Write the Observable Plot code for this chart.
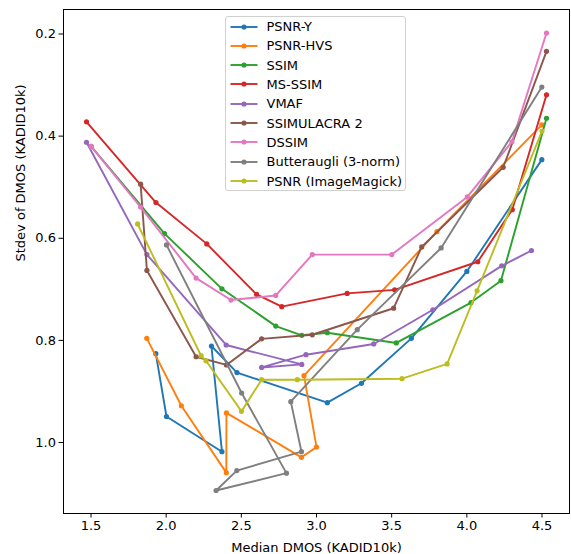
<!DOCTYPE html>
<html>
<head>
<meta charset="utf-8">
<script src="https://cdn.jsdelivr.net/npm/d3@7"></script>
<script src="https://cdn.jsdelivr.net/npm/@observablehq/plot@0.6"></script>
<style>
  html, body { margin: 0; padding: 0; background: #fff; }
  #wrap { position: relative; width: 571px; height: 554px; font-family: "DejaVu Sans", sans-serif; }
  #legend {
    position: absolute; left: 224.5px; top: 16px; width: 181px; height: 175px;
    box-sizing: border-box; border: 1px solid #d0d0d0; border-radius: 3px;
    background: rgba(255,255,255,0.85); font-size: 13px; color: #000;
  }
  .row { position: absolute; left: 0; height: 19px; display: flex; align-items: center; }
  .row svg { margin-left: 4px; }
  .row span { margin-left: 9px; white-space: nowrap; }
</style>
</head>
<body>
<div id="wrap"><div id="legend"></div></div>
<script>
// Median DMOS vs. stdev of DMOS per metric, KADID10k (each pair is [median, stdev])
const psnrY = [[1.931,0.826],[2.002,0.949],[2.371,1.018],[2.301,0.811],[2.471,0.863],[3.072,0.922],[3.299,0.884],[3.631,0.796],[4.000,0.665],[4.499,0.446]];
const psnrHVS = [[1.871,0.796],[2.101,0.928],[2.400,1.059],[2.401,0.942],[2.900,1.029],[3.000,1.009],[2.917,0.869],[3.801,0.587],[4.499,0.378]];
const ssim = [[1.501,0.420],[1.989,0.591],[2.371,0.699],[2.729,0.772],[2.902,0.790],[3.072,0.785],[3.531,0.805],[4.028,0.726],[4.227,0.683],[4.530,0.365]];
const msSsim = [[1.470,0.372],[1.932,0.530],[2.270,0.611],[2.601,0.710],[2.769,0.734],[3.204,0.708],[3.520,0.701],[4.073,0.646],[4.302,0.544],[4.530,0.319]];
const vmaf = [[1.470,0.412],[1.872,0.632],[2.399,0.809],[2.902,0.847],[2.635,0.853],[2.930,0.828],[3.381,0.807],[3.774,0.740],[4.232,0.654],[4.430,0.624]];
const ssimulacra2 = [[1.830,0.494],[1.872,0.663],[2.199,0.832],[2.401,0.848],[2.635,0.797],[2.972,0.789],[3.513,0.737],[3.700,0.617],[4.242,0.461],[4.530,0.234]];
const dssim = [[1.501,0.420],[1.830,0.539],[2.199,0.678],[2.431,0.721],[2.729,0.712],[2.972,0.632],[3.501,0.632],[4.003,0.519],[4.300,0.411],[4.530,0.198]];
const butteraugli = [[2.002,0.613],[2.502,0.903],[2.800,1.060],[2.332,1.094],[2.470,1.055],[2.900,1.018],[2.829,0.920],[3.271,0.779],[3.829,0.619],[4.499,0.304]];
const psnrIM = [[1.810,0.572],[2.232,0.830],[2.265,0.840],[2.501,0.939],[2.635,0.877],[2.872,0.877],[3.569,0.875],[3.869,0.846],[4.068,0.703],[4.500,0.390]];

const seriesNames = ["PSNR-Y","PSNR-HVS","SSIM","MS-SSIM","VMAF","SSIMULACRA 2","DSSIM","Butteraugli (3-norm)","PSNR (ImageMagick)"];
const seriesData = [psnrY, psnrHVS, ssim, msSsim, vmaf, ssimulacra2, dssim, butteraugli, psnrIM];
const seriesColors = ["#1f77b4","#ff7f0e","#2ca02c","#d62728","#9467bd","#8c564b","#e377c2","#7f7f7f","#bcbd22"];

const xTicks = [1.5, 2.0, 2.5, 3.0, 3.5, 4.0, 4.5];
const yTicks = [0.2, 0.4, 0.6, 0.8, 1.0];
const xTitle = "Median DMOS (KADID10k)";
const yTitle = "Stdev of DMOS (KADID10k)";

// one line + markers per metric, drawn in legend order so later series sit on top
const seriesMarks = seriesData.flatMap((pts, i) => {
  const rows = pts.map(([median, stdev]) => ({median, stdev}));
  return [
    Plot.line(rows, {x: "median", y: "stdev", stroke: seriesColors[i], strokeWidth: 1.9}),
    Plot.dot(rows, {x: "median", y: "stdev", fill: seriesColors[i], r: 2.6})
  ];
});

const chart = Plot.plot({
  width: 571,
  height: 554,
  marginLeft: 63,
  marginRight: 2,
  marginTop: 9,
  marginBottom: 41,
  style: {fontFamily: "DejaVu Sans, sans-serif", fontSize: "13px", color: "#000", background: "#fff", overflow: "visible"},
  x: {domain: [1.317, 4.683]},
  y: {domain: [0.152, 1.139], reverse: true},
  marks: [
    ...seriesMarks,
    Plot.axisX({ticks: xTicks, tickFormat: d3.format(".1f"), tickSize: 4.5, tickPadding: 3, label: null, fontSize: 13}),
    Plot.axisY({ticks: yTicks, tickFormat: d3.format(".1f"), tickSize: 4.5, tickPadding: 3, label: null, fontSize: 13}),
    Plot.text([xTitle], {text: d => d, frameAnchor: "bottom", dy: 34, lineAnchor: "middle", fontSize: 13}),
    Plot.text([yTitle], {text: d => d, frameAnchor: "left", dx: -43, rotate: -90, lineAnchor: "middle", fontSize: 13}),
    Plot.frame({stroke: "#000", strokeWidth: 1})
  ]
});
document.getElementById("wrap").prepend(chart);

// legend box over the upper middle of the plot area
const legend = document.getElementById("legend");
seriesNames.forEach((name, i) => {
  const row = document.createElement("div");
  row.className = "row";
  row.style.top = (0 + i * 19.33) + "px";
  row.innerHTML = `<svg width="28" height="10"><line x1="0.5" y1="5" x2="27.5" y2="5" stroke="${seriesColors[i]}" stroke-width="1.9"/><circle cx="14" cy="5" r="2.6" fill="${seriesColors[i]}"/></svg><span>${name}</span>`;
  legend.appendChild(row);
});
</script>
</body>
</html>
